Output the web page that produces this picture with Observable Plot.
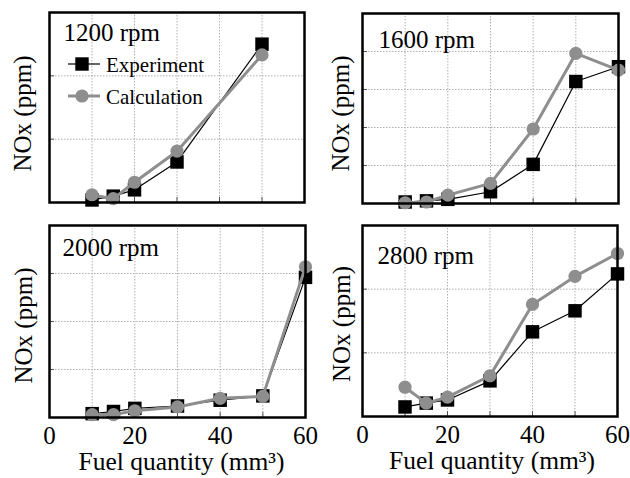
<!DOCTYPE html>
<html>
<head>
<meta charset="utf-8">
<script src="https://cdn.jsdelivr.net/npm/d3@7"></script>
<script src="https://cdn.jsdelivr.net/npm/@observablehq/plot@0.6"></script>
<style>
  html, body { margin: 0; padding: 0; background: white; }
  #chart { position: relative; width: 630px; height: 478px; font-family: "Liberation Serif", "Times New Roman", serif; }
  .panel { position: absolute; }
  .panel svg { overflow: visible; background: transparent; }
  #legend { position: absolute; left: 0; top: 0; }
</style>
</head>
<body>
<div id="chart"></div>
<script>
// ---- data (NOx in grid units; y axis carries no numeric labels) ----
const fuel1200 = [10, 15, 20, 30, 50];
const exp1200  = [0.04, 0.10, 0.20, 0.64, 2.50];
const calc1200 = [0.12, 0.06, 0.32, 0.81, 2.33];

const fuel = [10, 15, 20, 30, 40, 50, 60];
const exp1600  = [0.04, 0.07, 0.11, 0.31, 1.03, 3.21, 3.60];
const calc1600 = [0.02, 0.04, 0.22, 0.53, 1.96, 3.95, 3.51];
const exp2000  = [0.08, 0.125, 0.19, 0.24, 0.36, 0.45, 2.92];
const calc2000 = [0.06, 0.06, 0.14, 0.22, 0.40, 0.44, 3.14];
const exp2800  = [0.15, 0.21, 0.26, 0.56, 1.33, 1.66, 2.24];
const calc2800 = [0.46, 0.21, 0.305, 0.64, 1.76, 2.20, 2.56];

const titles = ["1200 rpm", "1600 rpm", "2000 rpm", "2800 rpm"];
const xTickLabels = [0, 20, 40, 60];
const xGridTicks = [10, 20, 30, 40, 50];
const yMaxes = [3, 5, 4, 3];
const yLabel = "NOx (ppm)";
const xLabel = "Fuel quantity (mm³)";
const seriesNames = ["Experiment", "Calculation"];

const GRAY = "#8e8e8e";
const FONT = "'Liberation Serif', 'Times New Roman', serif";

function rows(xsArr, e, c) {
  return xsArr.map((x, i) => ({x, exp: e[i], calc: c[i]}));
}

const panels = [
  {data: rows(fuel1200, exp1200, calc1200), left: 0, top: 0, width: 320, height: 212,
   m: {l: 49, r: 16, t: 12, b: 10}, xAxis: false, tdx: 14, tdy: 28, ydx: -27, ydy: 6},
  {data: rows(fuel, exp1600, calc1600), left: 320, top: 0, width: 310, height: 212,
   m: {l: 42, r: 12, t: 13, b: 9}, xAxis: false, tdx: 16, tdy: 34, ydx: -22, ydy: 5},
  {data: rows(fuel, exp2000, calc2000), left: 0, top: 212, width: 320, height: 266,
   m: {l: 49, r: 15, t: 13, b: 61}, xAxis: true, tdx: 13, tdy: 30, ydx: -26, ydy: 4, xdx: 4},
  {data: rows(fuel, exp2800, calc2800), left: 320, top: 212, width: 310, height: 266,
   m: {l: 42, r: 13, t: 13, b: 62}, xAxis: true, tdx: 15, tdy: 38, ydx: -21, ydy: 3, xdx: 2}
];

const chart = document.getElementById("chart");

panels.forEach((p, k) => {
  const yMax = yMaxes[k];
  const yGrid = d3.range(1, yMax);
  const marks = [
    Plot.gridX(xGridTicks, {stroke: "#b0b0b0", strokeOpacity: 1, strokeDasharray: "1.5,1.5"}),
    Plot.gridY(yGrid, {stroke: "#b0b0b0", strokeOpacity: 1, strokeDasharray: "1.5,1.5"}),
    Plot.axisX({ticks: xGridTicks, tickSize: -5, tickFormat: () => "", label: null, stroke: "#555"}),
    Plot.axisY({ticks: yGrid, tickSize: -5, tickFormat: () => "", label: null, stroke: "#555"}),
    Plot.line(p.data, {x: "x", y: "exp", stroke: "black", strokeWidth: 1.2}),
    Plot.dot(p.data, {x: "x", y: "exp", symbol: "square", r: 7.6, fill: "black", stroke: "none"}),
    Plot.line(p.data, {x: "x", y: "calc", stroke: GRAY, strokeWidth: 3}),
    Plot.dot(p.data, {x: "x", y: "calc", symbol: "circle", r: 6.6, fill: GRAY, stroke: "none"}),
    Plot.frame({stroke: "black", strokeWidth: 2.5}),
    Plot.text([titles[k]], {frameAnchor: "top-left", textAnchor: "start", lineAnchor: "bottom",
      dx: p.tdx, dy: p.tdy, fontSize: 25, fill: "black"}),
    Plot.text([yLabel], {frameAnchor: "left", textAnchor: "middle", lineAnchor: "middle", rotate: -90,
      dx: p.ydx, dy: p.ydy, fontSize: 25, fill: "black"})
  ];
  if (p.xAxis) {
    marks.push(Plot.axisX({ticks: xTickLabels, tickSize: 0, tickPadding: 9, fontSize: 25, label: null}));
    marks.push(Plot.text([xLabel], {frameAnchor: "bottom", lineAnchor: "bottom", dx: p.xdx, dy: 52,
      fontSize: 25.5, fill: "black"}));
  }
  const svg = Plot.plot({
    width: p.width, height: p.height,
    marginLeft: p.m.l, marginRight: p.m.r, marginTop: p.m.t, marginBottom: p.m.b,
    x: {domain: [0, 60]},
    y: {domain: [0, yMax]},
    style: {fontFamily: FONT, color: "black", background: "transparent", overflow: "visible"},
    marks
  });
  const div = document.createElement("div");
  div.className = "panel";
  div.style.left = p.left + "px";
  div.style.top = p.top + "px";
  div.appendChild(svg);
  chart.appendChild(div);
});

// ---- legend (panel 1) ----
const legend = d3.select(chart).append("svg").attr("id", "legend")
  .attr("width", 630).attr("height", 478).style("pointer-events", "none");
const legendItems = [
  {name: seriesNames[0], y: 64, color: "black", width: 1.2, sym: "square"},
  {name: seriesNames[1], y: 96, color: GRAY, width: 3, sym: "circle"}
];
legendItems.forEach(it => {
  const g = legend.append("g");
  g.append("line").attr("x1", 68).attr("x2", 100).attr("y1", it.y).attr("y2", it.y)
    .attr("stroke", it.color).attr("stroke-width", it.width);
  if (it.sym === "square") {
    g.append("rect").attr("x", 82 - 6.7).attr("y", it.y - 6.7).attr("width", 13.4).attr("height", 13.4).attr("fill", "black");
  } else {
    g.append("circle").attr("cx", 82).attr("cy", it.y).attr("r", 6.6).attr("fill", GRAY);
  }
  g.append("text").attr("x", 106).attr("y", it.y + 7.5).attr("font-family", FONT)
    .attr("font-size", 21).attr("fill", "black").text(it.name);
});
</script>
</body>
</html>
